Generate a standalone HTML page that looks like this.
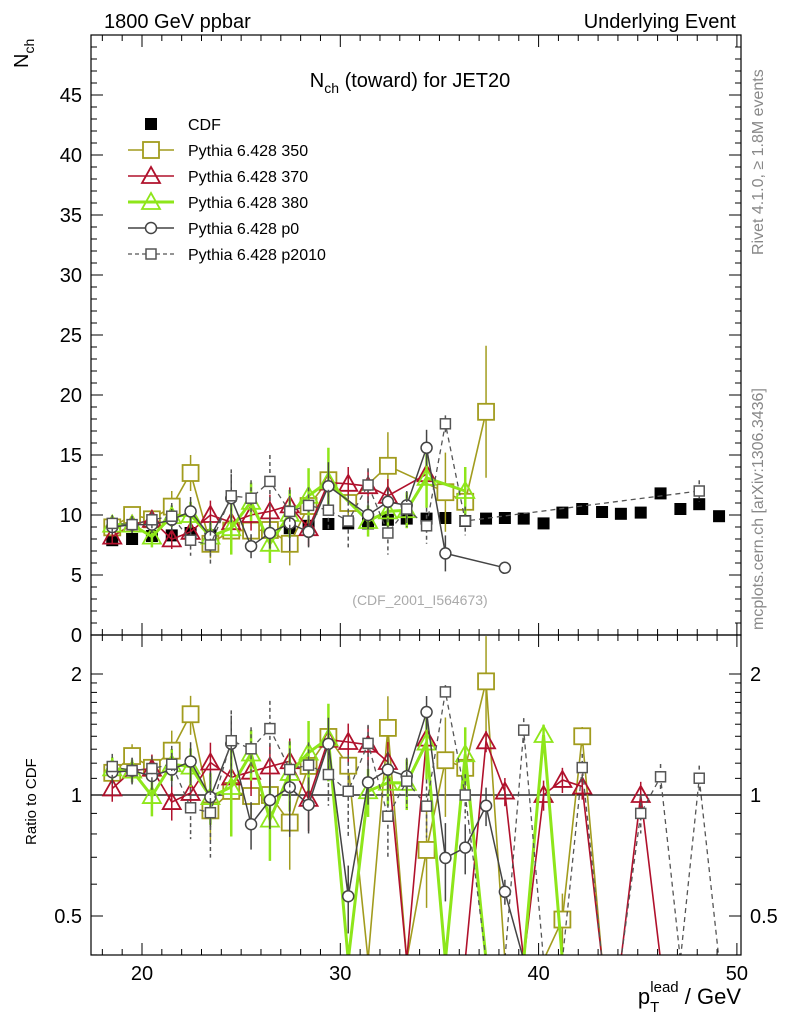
<!DOCTYPE html>
<html><head><meta charset="utf-8"><style>
html,body{margin:0;padding:0;background:#fff;width:786px;height:1024px;overflow:hidden;}
svg{display:block;font-family:"Liberation Sans",sans-serif;}
</style></head><body>
<svg id="chart" width="786" height="1024" viewBox="0 0 786 1024" xmlns="http://www.w3.org/2000/svg">
<defs>
<clipPath id="clipMain"><rect x="91" y="35" width="650" height="600"/></clipPath>
<clipPath id="clipRatio"><rect x="91" y="635" width="650" height="320"/></clipPath>
</defs>
<text x="104" y="28" font-size="20">1800 GeV ppbar</text>
<text x="736" y="28" font-size="20" text-anchor="end">Underlying Event</text>
<text x="410" y="87" font-size="20" text-anchor="middle">N<tspan font-size="14" dy="6">ch</tspan><tspan dy="-6"> (toward) for JET20</tspan></text>
<text transform="translate(28,68) rotate(-90)" font-size="20">N<tspan font-size="14" dy="6">ch</tspan></text>
<text transform="translate(36,845) rotate(-90)" font-size="15">Ratio to CDF</text>
<text x="741" y="1004" font-size="22" text-anchor="end">p<tspan font-size="15" dy="8">T</tspan><tspan font-size="15" dx="-9" dy="-20">lead</tspan><tspan dy="12"> / GeV</tspan></text>
<text transform="translate(763,255) rotate(-90)" font-size="16" fill="#888">Rivet 4.1.0, ≥ 1.8M events</text>
<text transform="translate(763,630) rotate(-90)" font-size="16" fill="#888">mcplots.cern.ch [arXiv:1306.3436]</text>
<text x="420" y="605" font-size="14" fill="#aaa" text-anchor="middle">(CDF_2001_I564673)</text>
<g id="axes"></g>
<g id="mainMarks" clip-path="url(#clipMain)"></g>
<g id="ratioMarks" clip-path="url(#clipRatio)"></g>
<g id="legend"></g>
<rect x="91" y="35" width="650" height="600" fill="none" stroke="#000" stroke-width="1.2"/>
<rect x="91" y="635" width="650" height="320" fill="none" stroke="#000" stroke-width="1.2"/>
</svg>
<script>
const bins=[18.5,19.5,20.5,21.5,22.45,23.45,24.5,25.5,26.45,27.45,28.4,29.4,30.4,31.4,32.4,33.35,34.35,35.3,36.3,37.35,38.3,39.25,40.25,41.2,42.2,43.2,44.15,45.15,46.15,47.15,48.1,49.1];
const cdf=[7.9,8.0,8.25,8.3,8.5,8.3,8.5,8.75,8.75,8.9,9.1,9.25,9.3,9.3,9.6,9.7,9.7,9.75,9.5,9.7,9.75,9.7,9.3,10.2,10.5,10.25,10.1,10.2,11.8,10.5,10.9,9.9];
const s350=[8.97,10.0,9.64,10.7,13.5,7.6,8.7,8.7,8.75,7.6,10.75,12.9,11.0,null,14.1,null,null,11.9,11.1,18.6];
const s370=[8.2,9.2,9.6,7.97,8.6,10.0,9.4,10.0,10.3,10.8,8.9,12.7,12.6,12.4,11.6,null,13.4];
const s380=[9.2,9.2,8.2,9.9,10.0,8.2,8.9,11.1,7.6,10.1,11.6,12.8,null,9.5,10.3,10.4,13.1,null,12.0];
const sp0=[9.0,9.2,9.2,9.6,10.3,8.2,11.4,7.4,8.5,9.3,8.6,12.4,null,10.0,11.1,10.8,15.6,6.8,null,null,5.6];
const sp2010=[9.3,9.2,9.6,9.9,7.9,7.5,11.6,11.4,12.8,10.3,10.8,10.4,9.5,12.5,8.5,10.5,9.1,17.6,9.5,null,null,null,null,null,null,null,null,null,null,null,12.0];
const err350=[0.8,0.7,0.7,1.3,1.5,1.2,1.4,1.5,1.5,1.8,1.8,2.0,1.8,2,2.8,2,2,3.3,1.8,5.5];
const err370=[0.6,0.6,0.8,0.8,0.9,1.2,1.3,1.3,1.4,1.5,1.5,1.3,1.4,1.4,1.4,1.5,1.5];
const err380=[0.6,0.6,0.9,0.9,1.1,1.2,2.2,1.6,1.6,2.0,2.3,2.8,2,1.3,1.3,1.5,2.5,2,2];
const errp0=[0.6,0.7,0.7,0.9,1.2,1.3,2.0,1.0,1.3,2.3,1.3,2.0,1,1.2,1.2,1.2,1.5,1.5,1,1,0.4];
const errp2010=[0.7,0.7,0.7,1.1,1.3,1.7,2.2,1.5,2.2,1.8,1.5,1.7,2.2,1.4,1.8,1.5,1.5,0.7,1.2,1,1,1,1,1,1,1,1,1,1,1,0.9];
// ratio-only points (index, ratio)
const extra350=[[16,0.73],[23,0.49],[24,1.4]];
const extra370=[[19,1.36],[20,1.02],[22,1.0],[23,1.09],[24,1.05],[27,1.0]];
const extra380=[[22,1.41]];
const extrap0=[[12,0.56],[18,0.74],[19,0.94]];
const extrap2010=[[21,1.45],[24,1.17],[27,0.9],[28,1.11]];
const yTicks=[0,5,10,15,20,25,30,35,40,45];
const xTicks=[20,30,40,50];
const rTicks=[0.5,1,2];

const NS='http://www.w3.org/2000/svg';
function X(v){return 142+(v-20)*19.83;}
function Y(v){return 635-12*v;}
function R(r){return r<=0?960:Math.min(960,795-121*Math.log2(r));}
function mk(tag,attrs,parent){const e=document.createElementNS(NS,tag);for(const k in attrs)e.setAttribute(k,attrs[k]);parent.appendChild(e);return e;}
const axes=document.getElementById('axes');
for(let v=18;v<=50;v++){
  const major=xTicks.includes(v);const L=major?12:6;const x=X(v);
  [[955,-1],[635,-1],[635,1],[35,1]].forEach(([y0,d])=>{
    const t=mk('line',{x1:x,x2:x,y1:y0,y2:y0+d*L,stroke:'#000','stroke-width':1},axes);
    
    
  });
}
xTicks.forEach(v=>{const t=mk('text',{x:X(v),y:980,'font-size':20,'text-anchor':'middle'},axes);t.textContent=v;
  
  });
for(let v=0;v<=49;v++){
  const major=v%5===0;const L=major?12:6;const y=Y(v);
  const a=mk('line',{x1:91,x2:91+L,y1:y,y2:y,stroke:'#000'},axes);
  
  
  const b=mk('line',{x1:741,x2:741-L,y1:y,y2:y,stroke:'#000'},axes);
  
  
}
yTicks.forEach(v=>{const t=mk('text',{x:82,y:Y(v)+7,'font-size':20,'text-anchor':'end'},axes);t.textContent=v;
  
  });
const rminor=[0.4,0.5,0.6,0.7,0.8,0.9,1,1.1,1.2,1.3,1.4,1.5,1.6,1.7,1.8,1.9,2];
rminor.forEach(r=>{const major=rTicks.includes(r);const L=major?12:6;const y=R(r);
  if(y>955)return;
  const a=mk('line',{x1:91,x2:91+L,y1:y,y2:y,stroke:'#000'},axes);
  
  
  const b=mk('line',{x1:741,x2:741-L,y1:y,y2:y,stroke:'#000'},axes);
  
  });
rTicks.forEach(r=>{
  const t=mk('text',{x:82,y:R(r)+7,'font-size':20,'text-anchor':'end'},axes);t.textContent=r;
  
  
  const t2=mk('text',{x:750,y:R(r)+7,'font-size':20},axes);t2.textContent=r;
  
  
});
const one=mk('line',{x1:91,x2:741,y1:R(1),y2:R(1),stroke:'#000','stroke-width':1.2},axes);



function marker(g,type,x,y,color){
  let e;
  if(type==='sq') e=mk('rect',{x:x-8,y:y-8,width:16,height:16,fill:'#fff',stroke:color,'stroke-width':1.8},g);
  else if(type==='tri') e=mk('path',{d:`M${x},${y-9}L${x+9},${y+7}L${x-9},${y+7}Z`,fill:'none',stroke:color,'stroke-width':1.8},g);
  else if(type==='circ') e=mk('circle',{cx:x,cy:y,r:5.5,fill:'#fff',stroke:color,'stroke-width':1.5},g);
  else if(type==='ssq') e=mk('rect',{x:x-5,y:y-5,width:10,height:10,fill:'#fff',stroke:color,'stroke-width':1.5},g);
  else if(type==='fsq') e=mk('rect',{x:x-6,y:y-6,width:12,height:12,fill:'#000'},g);
  return e;
}
const series=[
 {name:'pythia-350',vals:s350,err:err350,extra:extra350,color:'#a29c1e',w:1.6,dash:null,m:'sq'},
 {name:'pythia-370',vals:s370,err:err370,extra:extra370,color:'#b0112c',w:1.6,dash:null,m:'tri'},
 {name:'pythia-380',vals:s380,err:err380,extra:extra380,color:'#8ee61a',w:3,dash:null,m:'tri'},
 {name:'pythia-p0',vals:sp0,err:errp0,extra:extrap0,color:'#444',w:1.5,dash:null,m:'circ'},
 {name:'pythia-p2010',vals:sp2010,err:errp2010,extra:extrap2010,color:'#555',w:1.3,dash:'5,4',m:'ssq'}
];
const mainG=document.getElementById('mainMarks');
const ratioG=document.getElementById('ratioMarks');
cdf.forEach((v,i)=>{const e=marker(mainG,'fsq',X(bins[i]),Y(v));
  
  });
series.forEach(s=>{
  const g=mk('g',{},mainG);
  
  
  const pts=[];
  s.vals.forEach((v,i)=>{if(v!=null)pts.push([X(bins[i]),Y(v),i]);});
  const p=mk('polyline',{points:pts.map(q=>q[0]+','+q[1]).join(' '),fill:'none',stroke:s.color,'stroke-width':s.w},g);
  if(s.dash)p.setAttribute('stroke-dasharray',s.dash);
  
  
  pts.forEach(q=>{const e=s.err[q[2]]||1;
    const b=mk('line',{x1:q[0],x2:q[0],y1:q[1]-e*12,y2:q[1]+e*12,stroke:s.color,'stroke-width':s.w>2?2.5:1.5},g);
    if(s.dash)b.setAttribute('stroke-dasharray','4,3');
    
    
    const m=marker(g,s.m,q[0],q[1],s.color);
    
    
  });
  const rg=mk('g',{},ratioG);
  
  
  const rv=bins.map((b,i)=>(s.vals[i]!=null?s.vals[i]/cdf[i]:0));
  const real=bins.map((b,i)=>s.vals[i]!=null);
  s.extra.forEach(([i,r])=>{rv[i]=r;real[i]=true;});
  let last=0;for(let i=0;i<rv.length;i++)if(real[i])last=i;
  const rp=[];for(let i=0;i<=Math.min(last+1,rv.length-1);i++)rp.push([X(bins[i]),R(rv[i]),i]);
  const pl=mk('polyline',{points:rp.map(q=>q[0]+','+q[1]).join(' '),fill:'none',stroke:s.color,'stroke-width':s.w},rg);
  if(s.dash)pl.setAttribute('stroke-dasharray',s.dash);
  
  
  rp.forEach(q=>{if(!real[q[2]])return;
    const e=(s.err[q[2]]||0.8)/cdf[q[2]];const r=rv[q[2]];
    const b=mk('line',{x1:q[0],x2:q[0],y1:R(r+e),y2:R(Math.max(r-e,0.01)),stroke:s.color,'stroke-width':s.w>2?2.5:1.5},rg);
    if(s.dash)b.setAttribute('stroke-dasharray','4,3');
    
    
    const m=marker(rg,s.m,q[0],q[1],s.color);
    
    
  });
});
const lg=document.getElementById('legend');
const labels=['CDF','Pythia 6.428 350','Pythia 6.428 370','Pythia 6.428 380','Pythia 6.428 p0','Pythia 6.428 p2010'];
labels.forEach((t,k)=>{
  const y=124+26*k;
  const g=mk('g',{},lg);
  
  
  if(k===0){marker(g,'fsq',151,y,'#000');}
  else{const s=series[k-1];
    const l=mk('line',{x1:128,x2:174,y1:y,y2:y,stroke:s.color,'stroke-width':s.w},g);
    if(s.dash)l.setAttribute('stroke-dasharray','4,3');
    marker(g,s.m,151,y,s.color);}
  const tx=mk('text',{x:188,y:y+6,'font-size':16},g);tx.textContent=t;
});
</script>
</body></html>
